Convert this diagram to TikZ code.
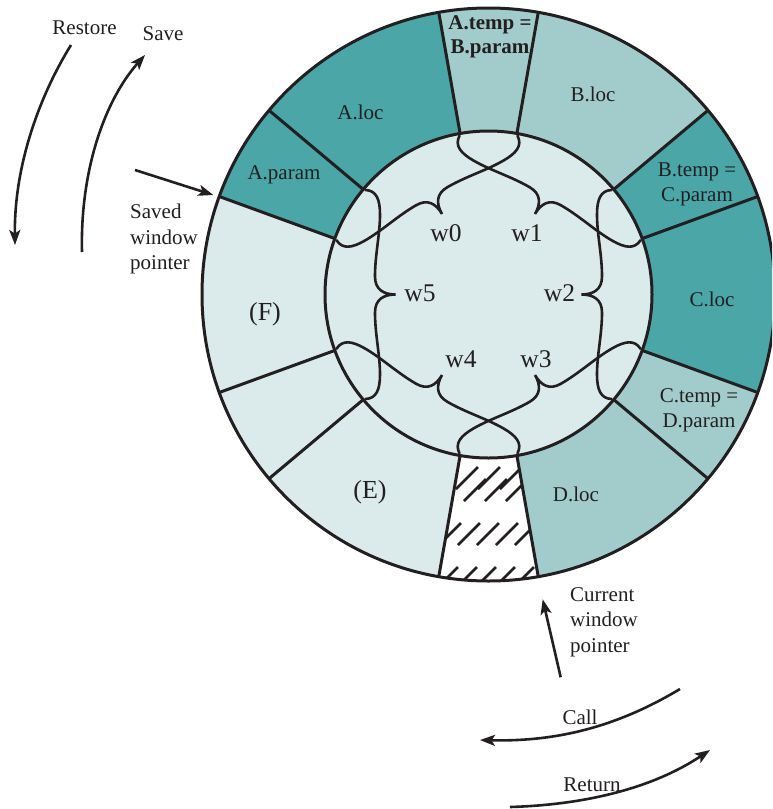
\documentclass[tikz,border=0pt]{standalone}
\usepackage{fontspec}
\setmainfont{Liberation Serif}
\usetikzlibrary{arrows.meta}
\definecolor{tdark}{HTML}{4AA6A7}
\definecolor{tmid}{HTML}{A2CCCC}
\definecolor{tlight}{HTML}{DBEAEA}
\definecolor{ink}{HTML}{231F20}
\def\Rout{286.5}
\def\Rin{163.5}
\newcommand\ringsector[3]{\fill[#1] (#2:\Rout) arc[start angle=#2, end angle=#3, radius=\Rout] -- (#3:\Rin) arc[start angle=#3, end angle=#2, radius=\Rin] -- cycle;}
\begin{document}
\begin{tikzpicture}[x=1pt,y=1pt,
  ringline/.style={draw=ink, line width=3pt},
  hatchline/.style={draw=ink, line width=2.5pt},
  bracepath/.style={draw=ink, line width=2.6pt, line cap=round},
  arr/.style={draw=ink, line width=2.6pt, -{Stealth[length=15pt,width=11pt,inset=3.5pt]}},
  lbl/.style={text=ink, font=\fontsize{21}{25}\selectfont, inner sep=0pt},
  lblbold/.style={text=ink, font=\bfseries\fontsize{21}{23.7}\selectfont, inner sep=0pt},
  ptr/.style={text=ink, font=\fontsize{21}{25.3}\selectfont, inner sep=0pt, align=left, anchor=north west},
  wlbl/.style={text=ink, font=\fontsize{25.5}{30}\selectfont, inner sep=0pt, anchor=base},
  plbl/.style={text=ink, font=\fontsize{26}{30}\selectfont, inner sep=0pt, anchor=base}]
\useasboundingbox (0,0) rectangle (772,-809);
\clip (0,0) rectangle (772,-809);
\fill[white] (0,0) rectangle (772,-809);

\begin{scope}[shift={(488.5,-294.5)}]
  \ringsector{tlight}{160}{200}
  \ringsector{tlight}{200}{220}
  \ringsector{tlight}{220}{260}
  \ringsector{white}{260}{280}
  \ringsector{tmid}{280}{320}
  \ringsector{tmid}{320}{340}
  \ringsector{tdark}{-20}{20}
  \ringsector{tdark}{20}{40}
  \ringsector{tmid}{40}{80}
  \ringsector{tmid}{80}{100}
  \ringsector{tdark}{100}{140}
  \ringsector{tdark}{140}{160}
  \fill[tlight] (0,0) circle[radius=\Rin];
\end{scope}

% hatching of the free window
\begin{scope}
  \clip[shift={(488.5,-294.5)}] (260:\Rout) arc[start angle=260, end angle=280, radius=\Rout] -- (280:\Rin) arc[start angle=280, end angle=260, radius=\Rin] -- cycle;
  \foreach \x in {456,478,500} \draw[hatchline] (\x,-489) -- ++(22,22);
  \foreach \x in {464,485,506,527} \draw[hatchline] (\x,-501) -- ++(22,22);
  \foreach \x in {439,458,477,496,515} \draw[hatchline] (\x,-545) -- ++(22,22);
  \foreach \x in {436,455,474,493,512,531} \draw[hatchline] (\x,-589) -- ++(22,22);
\end{scope}

\begin{scope}[shift={(488.5,-294.5)}]
  \foreach \a in {20,40,80,100,140,160,200,220,260,280,320,340}
    \draw[ringline] (\a:\Rin) -- (\a:\Rout);
  \draw[ringline] (0,0) circle[radius=\Rout];
  \draw[ringline] (0,0) circle[radius=\Rin];
  \foreach \a in {0,60,120,180,240,300}
    \draw[bracepath, rotate=\a] (123,-104.5) .. controls (112,-104) and (108.5,-95) .. (108.5,-80)
      .. controls (108.5,-60) and (113.5,-40) .. (113.5,-18)
      .. controls (113.5,-5) and (105,0) .. (93,0)
      .. controls (105,0) and (113.5,5) .. (113.5,18)
      .. controls (113.5,40) and (108.5,60) .. (108.5,80)
      .. controls (108.5,95) and (112,104) .. (123,104.5);
\end{scope}

% segment labels
\node[lblbold, align=center, anchor=north] (atemp) at (490,-15.3) {A.temp =\\B.param};
\node[lbl, anchor=base] (aloc) at (360.5,-119.3) {A.loc};
\node[lbl, anchor=base] (aparam) at (284,-179) {A.param};
\node[lbl, anchor=base] (bloc) at (593,-101) {B.loc};
\node[lbl, align=center, anchor=north] (btemp) at (697,-162.6) {B.temp =\\C.param};
\node[lbl, anchor=base] (cloc) at (712,-306) {C.loc};
\node[lbl, align=center, anchor=north] (ctemp) at (699,-388.4) {C.temp =\\D.param};
\node[lbl, anchor=base] (dloc) at (576,-501) {D.loc};
\node[plbl] (ewin) at (370,-498.5) {(E)};
\node[plbl] (fwin) at (265,-320) {(F)};

% window labels
\node[wlbl] (w0) at (446,-241.7) {w0};
\node[wlbl] (w1) at (527,-241.7) {w1};
\node[wlbl] (w5) at (420,-301.7) {w5};
\node[wlbl] (w2) at (559.5,-301.7) {w2};
\node[wlbl] (w4) at (461,-367.3) {w4};
\node[wlbl] (w3) at (536,-367.3) {w3};

% pointers
\node[ptr] (swp) at (130,-204) {Saved\\window\\pointer};
\node[ptr] (cwp) at (570,-587.5) {Current\\window\\pointer};
\coordinate (swtail) at (135,-170);
\coordinate (swtip) at (213.3,-195);
\coordinate (cwtail) at (560.7,-677.3);
\coordinate (cwtip) at (542.7,-599.3);
\draw[arr] (swtail) -- (swtip);
\draw[arr] (cwtail) -- (cwtip);

% save / restore / call / return
\node[lbl, anchor=base] (restore) at (84.5,-34) {Restore};
\node[lbl, anchor=base] (save) at (163,-40.5) {Save};
\node[lbl, anchor=base] (call) at (580,-724.3) {Call};
\node[lbl, anchor=base] (return) at (592,-791) {Return};
\coordinate (rs0) at (71,-45);
\coordinate (rs1) at (15,-245);
\coordinate (sv0) at (82,-252);
\coordinate (sv1) at (145,-55);
\coordinate (cl0) at (680,-689);
\coordinate (cl1) at (480,-740);
\coordinate (rt0) at (510,-807);
\coordinate (rt1) at (710,-750);
\draw[arr] (rs0) .. controls (40,-95) and (14,-165) .. (rs1);
\draw[arr] (sv0) .. controls (80,-170) and (105,-100) .. (sv1);
\draw[arr] (cl0) .. controls (620,-725) and (560,-742) .. (cl1);
\draw[arr] (rt0) .. controls (580,-805) and (650,-790) .. (rt1);
\end{tikzpicture}
\end{document}
